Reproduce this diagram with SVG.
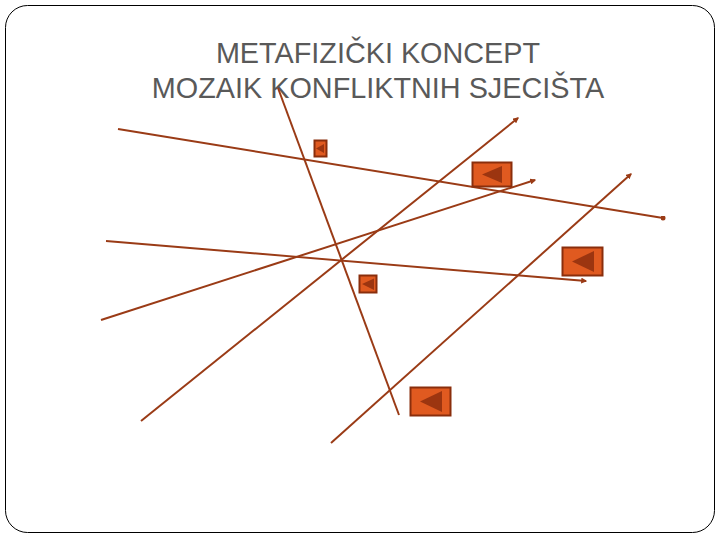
<svg xmlns="http://www.w3.org/2000/svg" width="720" height="540" viewBox="0 0 720 540">
<style>
.t{font-family:"Liberation Sans",Arial,sans-serif;font-size:28.8px;fill:#595959;text-anchor:middle}
.ln{stroke:#9a3b16;stroke-width:2;fill:none}
.btn rect{fill:#e05a20;stroke:#8a2e0c;stroke-width:2}
.btn polygon{fill:#9c3510}
</style>
<defs>
<marker id="ah" viewBox="0 0 10 10" refX="8" refY="5" markerWidth="3" markerHeight="3" orient="auto"><path d="M0,0L10,5L0,10z" fill="#9a3b16"/></marker>
<marker id="dot" viewBox="0 0 10 10" refX="5" refY="5" markerWidth="2.5" markerHeight="2.5"><circle cx="5" cy="5" r="5" fill="#9a3b16"/></marker>
</defs>
<rect x="5.5" y="5.5" width="709" height="527" rx="22" fill="#fff" stroke="#000" stroke-width="1"/>
<g id="title">
<text class="t" x="378" y="63">METAFIZIČKI KONCEPT</text>
<text class="t" x="378" y="98">MOZAIK KONFLIKTNIH SJECIŠTA</text>
</g>
<g id="connectors">
<line class="ln" x1="118" y1="129" x2="663" y2="218" marker-end="url(#dot)"/>
<line class="ln" x1="278" y1="88" x2="399" y2="415"/>
<line class="ln" x1="141" y1="421" x2="518" y2="118" marker-end="url(#ah)"/>
<line class="ln" x1="101" y1="320" x2="535" y2="180" marker-end="url(#ah)"/>
<line class="ln" x1="106" y1="241" x2="586" y2="281" marker-end="url(#ah)"/>
<line class="ln" x1="331" y1="443" x2="631" y2="174" marker-end="url(#ah)"/>
</g>
<g id="btn1" class="btn"><rect x="314.5" y="140.5" width="12" height="16"/><polygon points="316,148.5 324,144 324,153"/></g>
<g id="btn2" class="btn"><rect x="472.5" y="162.5" width="39" height="24"/><polygon points="482,174.5 502,166 502,183"/></g>
<g id="btn3" class="btn"><rect x="562.5" y="247.5" width="40" height="28"/><polygon points="572,261.5 594,251 594,272"/></g>
<g id="btn4" class="btn"><rect x="359.5" y="275.5" width="17" height="17"/><polygon points="362,284 374,278.5 374,290"/></g>
<g id="btn5" class="btn"><rect x="410.5" y="387.5" width="40" height="28"/><polygon points="420,401.5 442,391 442,412"/></g>
</svg>
